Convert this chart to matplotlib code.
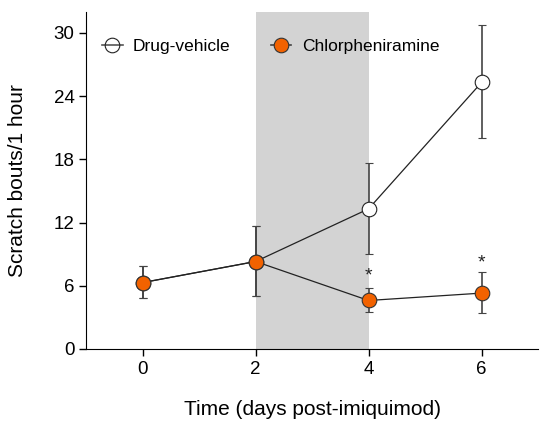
import matplotlib.pyplot as plt
from matplotlib.lines import Line2D

plt.rcParams['font.family'] = ['Liberation Sans', 'DejaVu Sans']

days = [0, 2, 4, 6]
vehicle_mean = [6.3, 8.3, 13.3, 25.3]
vehicle_lo = [4.8, 5.0, 9.0, 20.0]
vehicle_hi = [7.9, 11.7, 17.7, 30.8]
chlor_mean = [6.3, 8.3, 4.6, 5.3]
chlor_lo = [4.8, 5.0, 3.5, 3.4]
chlor_hi = [7.9, 11.7, 5.8, 7.3]
star_x = [4, 6]
star_y = [6.1, 7.4]

fig = plt.figure(figsize=(5.49, 4.25), dpi=100)
ax = fig.add_axes([0.157, 0.179, 0.823, 0.793])

ax.axvspan(2, 4, color='#d3d3d3', zorder=0, lw=0)

v_err = [[m - l for m, l in zip(vehicle_mean, vehicle_lo)],
         [h - m for m, h in zip(vehicle_mean, vehicle_hi)]]
c_err = [[m - l for m, l in zip(chlor_mean, chlor_lo)],
         [h - m for m, h in zip(chlor_mean, chlor_hi)]]

ax.errorbar(days, vehicle_mean, yerr=v_err, color='#222222', lw=0.9,
            ecolor='#444444', elinewidth=1.2, capsize=3, capthick=1.2,
            marker='o', ms=10.5, mfc='white', mec='#222222', mew=0.8,
            zorder=3)
ax.errorbar(days, chlor_mean, yerr=c_err, color='#222222', lw=0.9,
            ecolor='#444444', elinewidth=1.2, capsize=3, capthick=1.2,
            marker='o', ms=10.5, mfc='#f26200', mec='#333333', mew=0.8,
            zorder=4)

for x, y in zip(star_x, star_y):
    ax.text(x, y, '*', ha='center', va='bottom', fontsize=14, color='#222222')

ax.set_xlim(-1, 7)
ax.set_ylim(0, 32)
ax.set_xticks(days)
ax.set_yticks([0, 6, 12, 18, 24, 30])
ax.tick_params(labelsize=13.5, length=5, width=1, direction='out')
ax.spines['top'].set_visible(False)
ax.spines['right'].set_visible(False)
ax.set_xlabel('Time (days post-imiquimod)', fontsize=15, labelpad=16)
ax.set_ylabel('Scratch bouts/1 hour', fontsize=15, labelpad=19)

# legend handles: line through the marker, no error caps
handles = [
    Line2D([], [], color='#555555', lw=1.2, marker='o', ms=10.5,
           mfc='none', mec='#222222', mew=0.8),
    Line2D([], [], color='#444444', lw=1.2, marker='o', ms=10.5,
           mfc='#f26200', mec='#333333', mew=0.8),
]
ax.legend(handles, ['Drug-vehicle', 'Chlorpheniramine'], loc='upper left',
          ncol=2, frameon=False, fontsize=12.5,
          bbox_to_anchor=(0.0, 0.965), columnspacing=2.3,
          handlelength=1.2, handletextpad=0.6)

fig.savefig('out.png', dpi=100)
